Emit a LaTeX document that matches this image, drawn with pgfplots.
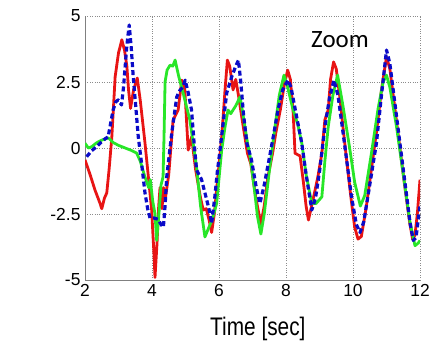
\documentclass[border=0pt]{standalone}
\usepackage{fontspec}
\setmainfont{Liberation Sans}
\newfontfamily\calibri{Carlito}
\usepackage{pgfplots}
\pgfplotsset{compat=1.18}
\definecolor{mred}{RGB}{232,20,20}
\definecolor{mgreen}{RGB}{40,230,40}
\definecolor{mblue}{RGB}{10,10,200}
\begin{document}
\begin{tikzpicture}
\path[use as bounding box] (-85bp,-62bp) rectangle (347bp,280bp);
\begin{axis}[
  scale only axis, width=335bp, height=264bp,
  at={(0,0)}, anchor=south west,
  xmin=2, xmax=12, ymin=-5, ymax=5,
  axis lines*=left,
  axis line style={draw=black!50, line width=0.8bp},
  xtick={2,4,6,8,10,12}, xticklabels={2,4,6,8,10,12},
  ytick={-5,-2.5,0,2.5,5}, yticklabels={-5,-2.5,0,2.5,5},
  tick style={draw=none},
  grid=major,
  major grid style={draw=black!45, dotted, line width=0.6bp},
  tick label style={font=\fontsize{17.5}{17.5}\selectfont},
  /pgf/number format/assume math mode=true,
  xticklabel style={yshift=-1bp},
  yticklabel style={xshift=-1bp},
  xlabel={\scalebox{0.82}[1]{Time [sec]}},
  xlabel style={at={(axis description cs:0.516,0)}, anchor=base, yshift=-55bp, inner sep=0pt, font=\fontsize{25.5}{25.5}\selectfont},
  clip=true,
]
\addplot[mred, line width=2.8bp, line join=round] coordinates {
(2.00,-0.45)(2.15,-1.0)(2.3,-1.6)(2.45,-2.1)(2.5,-2.3)(2.58,-1.9)(2.65,-1.7)(2.72,-0.8)(2.8,0.4)(2.9,2.7)(3.0,3.6)(3.1,4.1)(3.18,3.7)(3.25,3.1)(3.3,2.2)(3.36,1.5)(3.45,2.2)(3.56,2.65)(3.65,1.8)(3.79,0.2)(3.9,-1.2)(3.99,-2.35)(4.05,-3.8)(4.09,-4.9)(4.15,-3.6)(4.2,-2.2)(4.24,-1.5)(4.3,-2.3)(4.34,-1.5)(4.4,-1.9)(4.5,-1.0)(4.63,1.06)(4.78,1.44)(4.89,2.57)(4.98,2.2)(5.05,0.6)(5.08,-0.08)(5.18,0.42)(5.3,-0.8)(5.45,-1.9)(5.53,-2.35)(5.62,-2.3)(5.7,-2.7)(5.78,-3.2)(5.86,-2.5)(5.95,-1.3)(6.08,0.4)(6.18,2.2)(6.25,3.33)(6.32,3.1)(6.42,2.2)(6.5,2.6)(6.58,2.0)(6.7,1.0)(6.85,-0.2)(6.95,-0.6)(7.1,-1.9)(7.25,-2.88)(7.35,-2.2)(7.46,-1.1)(7.6,-0.2)(7.7,0.6)(7.83,1.44)(7.95,2.4)(8.05,2.95)(8.13,2.6)(8.21,1.44)(8.27,-0.2)(8.42,-0.3)(8.52,-1.3)(8.6,-2.2)(8.67,-2.73)(8.8,-2.0)(8.95,-1.1)(9.07,-0.2)(9.16,1.06)(9.26,1.44)(9.33,2.6)(9.42,3.26)(9.5,3.0)(9.6,2.0)(9.7,0.8)(9.81,-0.45)(9.95,-2.0)(10.05,-3.0)(10.15,-3.45)(10.25,-3.35)(10.4,-2.2)(10.55,-0.8)(10.7,0.6)(10.85,2.2)(11.0,3.45)(11.1,3.0)(11.25,1.5)(11.4,0.0)(11.55,-1.5)(11.7,-2.9)(11.78,-3.45)(11.85,-3.3)(11.92,-2.5)(12.0,-1.2)
};
\addplot[mgreen, line width=2.8bp, line join=round] coordinates {
(2.0,0.18)(2.1,0.0)(2.2,0.05)(2.35,0.2)(2.5,0.3)(2.7,0.38)(2.85,0.2)(3.0,0.1)(3.2,0.0)(3.4,-0.1)(3.54,-0.19)(3.65,-0.5)(3.79,-1.1)(3.9,-1.5)(3.95,-1.2)(4.02,-2.0)(4.09,-2.5)(4.14,-3.5)(4.2,-2.6)(4.27,-1.4)(4.33,-1.1)(4.36,0.5)(4.39,2.5)(4.45,2.95)(4.54,3.14)(4.62,3.1)(4.69,3.33)(4.8,2.7)(4.93,2.08)(5.13,1.06)(5.33,-0.72)(5.45,-2.2)(5.58,-3.37)(5.7,-3.0)(5.8,-2.7)(5.93,-2.1)(6.08,-0.08)(6.18,0.8)(6.27,1.44)(6.35,1.3)(6.5,1.6)(6.63,1.94)(6.75,1.0)(6.85,0.2)(6.93,-0.33)(7.05,-1.5)(7.15,-2.6)(7.25,-3.26)(7.35,-2.5)(7.5,-0.9)(7.65,0.6)(7.8,2.0)(7.94,2.76)(8.05,2.3)(8.2,1.5)(8.35,0.9)(8.47,0.19)(8.6,-1.0)(8.77,-2.1)(8.9,-2.1)(9.07,-1.85)(9.16,-0.5)(9.26,0.8)(9.4,2.0)(9.54,2.76)(9.7,1.6)(9.9,0.0)(10.05,-1.3)(10.22,-2.2)(10.35,-1.8)(10.55,-0.2)(10.75,1.5)(10.9,2.5)(11.0,2.76)(11.1,2.3)(11.3,0.8)(11.5,-1.0)(11.7,-2.8)(11.85,-3.7)(11.95,-3.6)(12.0,-3.5)
};
\addplot[mblue, line width=3.2bp, line join=round, dash pattern=on 5bp off 3bp] coordinates {
(2.05,-0.33)(2.2,-0.1)(2.35,0.05)(2.45,0.18)(2.6,0.35)(2.69,0.42)(2.76,0.9)(2.84,1.44)(2.92,1.75)(2.99,1.82)(3.09,1.63)(3.15,2.3)(3.19,2.95)(3.25,3.9)(3.32,4.66)(3.38,3.8)(3.44,2.7)(3.52,1.5)(3.59,0.42)(3.7,-0.7)(3.79,-1.7)(3.87,-2.3)(3.94,-2.65)(4.05,-2.65)(4.18,-2.7)(4.27,-2.9)(4.34,-3.0)(4.39,-2.2)(4.44,-1.1)(4.52,-0.2)(4.59,0.57)(4.67,1.3)(4.74,1.94)(4.84,2.2)(4.92,2.3)(4.99,2.57)(5.08,2.1)(5.18,1.44)(5.25,0.3)(5.33,-0.83)(5.48,-1.2)(5.6,-1.8)(5.7,-2.3)(5.78,-2.85)(5.88,-1.8)(5.95,-0.9)(6.03,-0.08)(6.13,1.0)(6.23,2.08)(6.38,2.7)(6.5,3.1)(6.58,3.33)(6.65,2.5)(6.73,1.3)(6.83,0.19)(6.97,-0.45)(7.1,-1.4)(7.22,-2.1)(7.35,-1.4)(7.5,-0.4)(7.63,0.5)(7.76,1.44)(7.9,2.2)(8.06,2.57)(8.15,2.3)(8.3,1.3)(8.47,0.19)(8.6,-1.0)(8.77,-2.35)(8.88,-1.9)(9.0,-0.9)(9.16,0.8)(9.3,1.9)(9.43,2.57)(9.55,2.0)(9.68,0.8)(9.81,-0.45)(9.95,-1.8)(10.1,-2.9)(10.21,-3.2)(10.32,-2.8)(10.5,-1.4)(10.7,0.19)(10.85,2.0)(11.0,3.71)(11.1,3.2)(11.25,1.7)(11.4,0.19)(11.55,-1.3)(11.7,-2.8)(11.8,-3.5)(11.88,-3.4)(12.0,-2.2)
};
\node[font=\calibri\fontsize{25}{25}\selectfont, inner sep=0pt] at (axis cs:9.61,4.12) {Zoom};
\end{axis}
\end{tikzpicture}
\end{document}
